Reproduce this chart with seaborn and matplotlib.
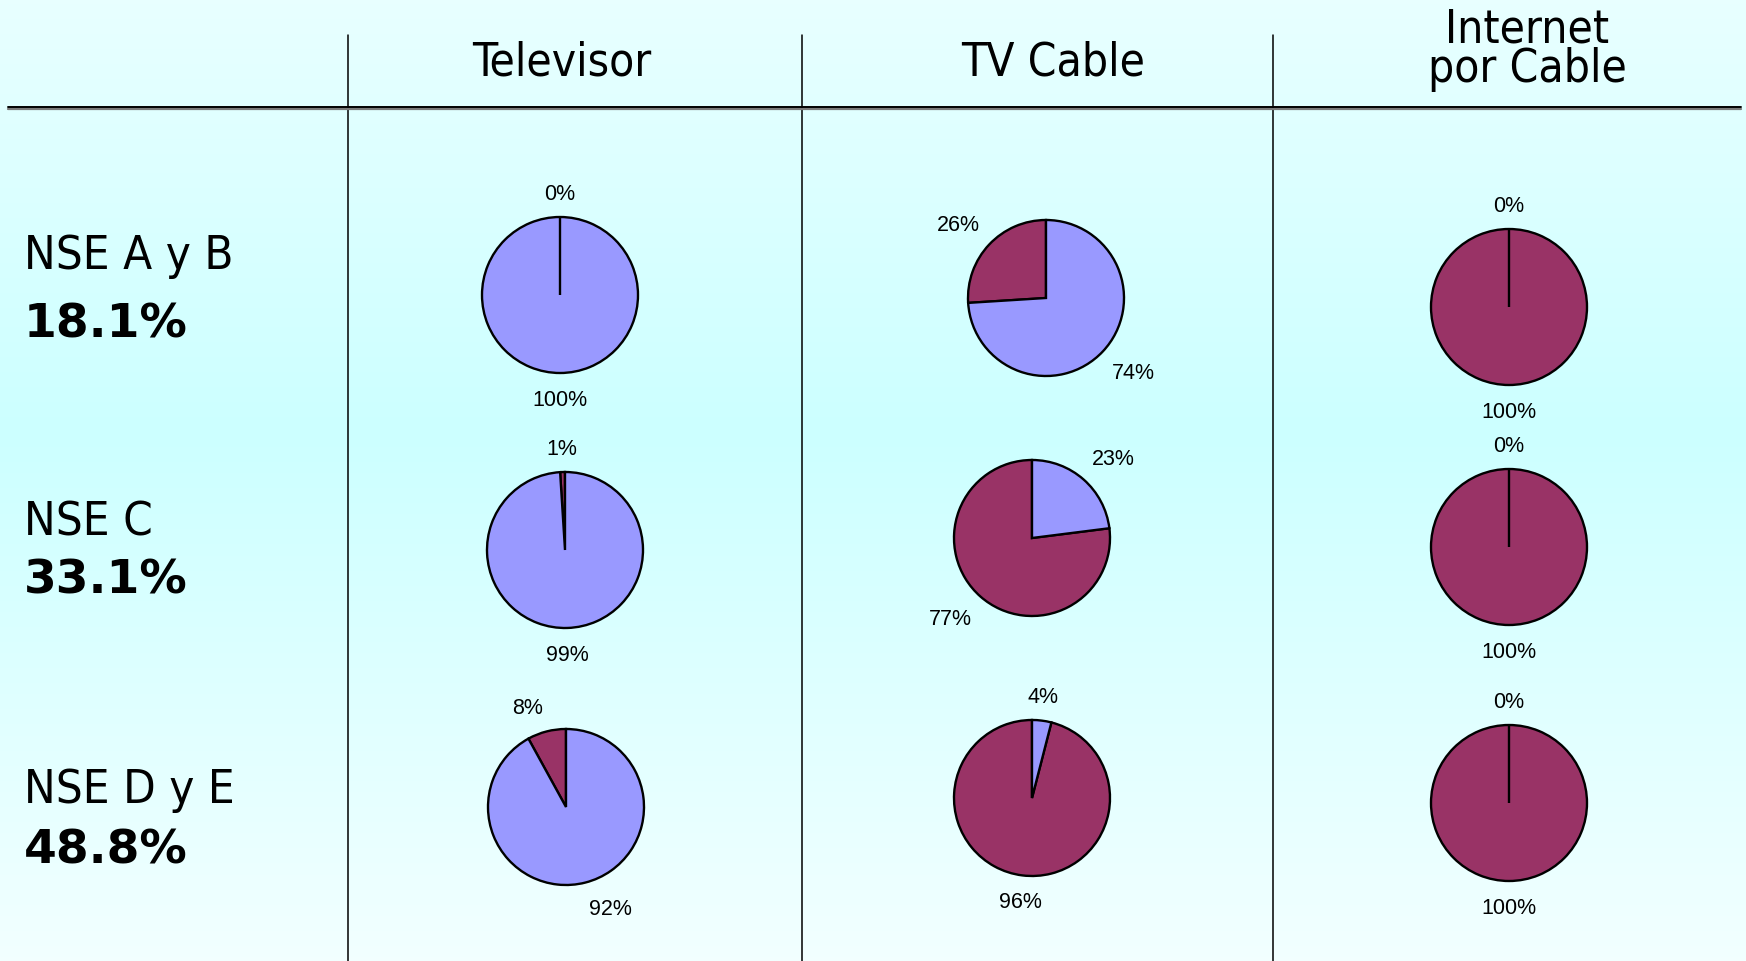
import numpy as np
import matplotlib
matplotlib.use("Agg")
import matplotlib.pyplot as plt
from matplotlib.colors import LinearSegmentedColormap
import seaborn as sns

# Datos
columnas = ["Televisor", "TV Cable", "Internet\npor Cable"]
segmentos = ["NSE A y B", "NSE C", "NSE D y E"]
peso_segmento = ["18.1%", "33.1%", "48.8%"]

# % que tiene (azul) / no tiene (granate), por segmento
televisor_si = [100, 99, 92]
televisor_no = [0, 1, 8]
cable_si = [74, 23, 4]
cable_no = [26, 77, 96]
internet_si = [0, 0, 0]
internet_no = [100, 100, 100]

tiene = [televisor_si, cable_si, internet_si]
no_tiene = [televisor_no, cable_no, internet_no]

# Layout (pixeles desde arriba)
W, H = 1746, 961
centros_x = [[560, 1046, 1509], [565, 1032, 1509], [566, 1032, 1509]]
centros_y = [[295, 298, 307], [550, 538, 547], [807, 798, 803]]
radio = 78
titulo_x = [562, 1053, 1527]
lineas_v = [348, 802, 1273]
linea_h = 107
etiqueta_y = [269, 536, 803]
peso_y = [338, 593, 863]

sns.set_theme(style="white")
colores = sns.color_palette(["#993366", "#9999FF"])
plt.rcParams["font.family"] = ["DejaVu Sans"]
plt.rcParams["text.color"] = "black"

fig = plt.figure(figsize=(W / 100, H / 100), dpi=100)
ax = fig.add_axes([0, 0, 1, 1])

# Fondo degradado
fondo = LinearSegmentedColormap.from_list(
    "fondo", [(0, "#E8FFFF"), (0.45, "#CCFFFF"), (1, "#F2FFFF")])
ax.imshow(np.linspace(0, 1, 256).reshape(-1, 1), cmap=fondo,
          extent=[0, W, 0, H], aspect="auto", zorder=0)

# Lineas de la tabla
for x in lineas_v:
    ax.plot([x, x], [0, H - 35], color="black", lw=1.1, zorder=1)
ax.plot([8, 1741], [H - linea_h - 1.5, H - linea_h - 1.5], color="#7a7a7a", lw=1.6, zorder=1)
ax.plot([8, 1741], [H - linea_h, H - linea_h], color="black", lw=1.4, zorder=1)

# Encabezados (baseline de la ultima linea)
for j, nombre in enumerate(columnas):
    if "\n" in nombre:
        ax.text(titulo_x[j], H - 82, nombre, ha="center", va="baseline",
                multialignment="center", linespacing=0.84,
                fontsize=33, fontstretch="condensed")
    else:
        ax.text(titulo_x[j], H - 75, nombre, ha="center", va="baseline",
                fontsize=33, fontstretch="condensed")

# Etiquetas de filas
for i, seg in enumerate(segmentos):
    ax.text(24, H - etiqueta_y[i], seg, ha="left", va="baseline",
            fontsize=34, fontstretch="condensed")
    ax.text(24, H - peso_y[i], peso_segmento[i], ha="left", va="baseline",
            fontsize=34, fontweight="bold")

# Tortas
dist = 1.16
for i in range(len(segmentos)):
    for j in range(len(columnas)):
        vals = [no_tiene[j][i], tiene[j][i]]
        cx, cy = centros_x[i][j], H - centros_y[i][j]
        wedges, textos = ax.pie(
            vals, colors=colores, startangle=90, counterclock=True,
            center=(cx, cy), radius=radio, labels=[f"{v}%" for v in vals],
            labeldistance=dist,
            wedgeprops=dict(edgecolor="black", linewidth=1.7),
            textprops=dict(fontsize=15.5, family=["Liberation Sans", "DejaVu Sans"]))
        for w, v in zip(wedges, vals):
            # las porciones de 0% quedan encima para que se vea su linea
            w.set_zorder(3 if v == 0 else 2)
        for t in textos:
            tx, ty = t.get_position()
            dx = (tx - cx) / (dist * radio)
            dy = (ty - cy) / (dist * radio)
            t.set_ha("center" if abs(dx) < 0.15 else ("left" if dx > 0 else "right"))
            if dy < -0.15:
                t.set_va("top")
                t.set_position((tx, cy + dy * radio * 1.22))
            else:
                t.set_va("center" if abs(dy) < 0.15 else "bottom")
            t.set_color("black")

ax.set_xlim(0, W)
ax.set_ylim(0, H)
ax.set_axis_off()

fig.savefig("out.png", dpi=100)
